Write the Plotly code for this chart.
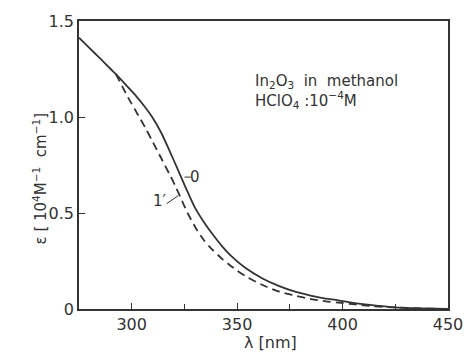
import plotly.graph_objects as go

# Curve 0 (solid)
wl_0 = [275, 280, 285, 290, 292.5, 298, 302, 306, 310, 314, 318, 321, 324, 327, 330, 335, 339, 343, 347, 354, 362, 370, 377.5, 383, 390, 398, 405, 413, 425, 437, 450]
eps_0 = [1.413, 1.359, 1.305, 1.25, 1.223, 1.158, 1.11, 1.056, 0.995, 0.918, 0.822, 0.748, 0.672, 0.598, 0.528, 0.44, 0.38, 0.325, 0.278, 0.213, 0.159, 0.119, 0.09, 0.075, 0.058, 0.045, 0.032, 0.021, 0.008, 0.003, 0.0]

# Curve 1' (dashed)
wl_1 = [292.5, 298.7, 302, 306.4, 310, 314, 318, 320.5, 323, 326.5, 331, 334, 338, 343, 346.6, 350, 354.4, 362, 370, 377.5, 385, 392, 398, 405, 413, 425, 437, 450]
eps_1 = [1.223, 1.093, 1.03, 0.945, 0.87, 0.785, 0.70, 0.645, 0.585, 0.50, 0.41, 0.362, 0.312, 0.26, 0.228, 0.2, 0.168, 0.125, 0.09, 0.07, 0.052, 0.04, 0.033, 0.025, 0.016, 0.008, 0.003, 0.0]

x_ticks = [300, 350, 400, 450]
x_ticklabels = ["300", "350", "400", "450"]
y_ticks = [0, 0.5, 1.0, 1.5]
y_ticklabels = ["0", "0.5", "1.0", "1.5"]

INK = "#333333"
FONT = "DejaVu Sans"

fig = go.Figure()
fig.add_trace(go.Scatter(x=wl_1, y=eps_1, mode="lines", line=dict(color=INK, width=1.8, dash="8px,5px", shape="spline", smoothing=0.8), showlegend=False))
fig.add_trace(go.Scatter(x=wl_0, y=eps_0, mode="lines", line=dict(color=INK, width=1.8, shape="spline", smoothing=0.8), showlegend=False))

fig.update_layout(
    width=475, height=361,
    margin=dict(l=79, r=19, t=20, b=52),
    paper_bgcolor="white", plot_bgcolor="white",
    font=dict(family=FONT, size=15, color=INK),
    showlegend=False,
)
fig.update_xaxes(range=[275, 450], tickvals=x_ticks, ticktext=x_ticklabels,
                 ticks="inside", ticklen=6, tickwidth=1.2, tickcolor=INK,
                 minor=dict(tickvals=[325, 375, 425], ticks="inside", ticklen=5, tickwidth=1.2, tickcolor=INK),
                 showline=True, linecolor=INK, linewidth=1.5, mirror=True,
                 showgrid=False, zeroline=False, tickfont=dict(size=16))
fig.update_yaxes(range=[0, 1.5], tickvals=y_ticks, ticktext=y_ticklabels,
                 ticks="inside", ticklen=6, tickwidth=1.2, tickcolor=INK,
                 showline=True, linecolor=INK, linewidth=1.5, mirror=True,
                 showgrid=False, zeroline=False, tickfont=dict(size=16))

# Axis titles
fig.add_annotation(text="ε [ 10<sup>4</sup>M<sup>−1</sup>  cm<sup>−1</sup>]", xref="paper", yref="paper",
                   x=-0.138, y=0.45, textangle=-90, showarrow=False, font=dict(size=15))
fig.add_annotation(text="λ [nm]", xref="paper", yref="paper", x=0.52, y=-0.155,
                   showarrow=False, font=dict(size=16))

# Legend text
fig.add_annotation(text="In<sub>2</sub>O<sub>3</sub>  in  methanol<br>HClO<sub>4</sub> :10<sup>−4</sup>M",
                   xref="paper", yref="paper", x=0.472, y=0.83, xanchor="left", yanchor="top",
                   align="left", showarrow=False, font=dict(size=15))

# Curve labels with leader lines
fig.add_annotation(text="0", x=330.2, y=0.686, showarrow=False, font=dict(size=15))
fig.add_shape(type="line", x0=325.0, y0=0.687, x1=328.0, y1=0.687, line=dict(color=INK, width=1))
fig.add_annotation(text="1′", x=313.6, y=0.56, showarrow=False, font=dict(size=15))
fig.add_shape(type="line", x0=316.5, y0=0.548, x1=322.0, y1=0.59, line=dict(color=INK, width=1))

fig.write_html("out.html")
